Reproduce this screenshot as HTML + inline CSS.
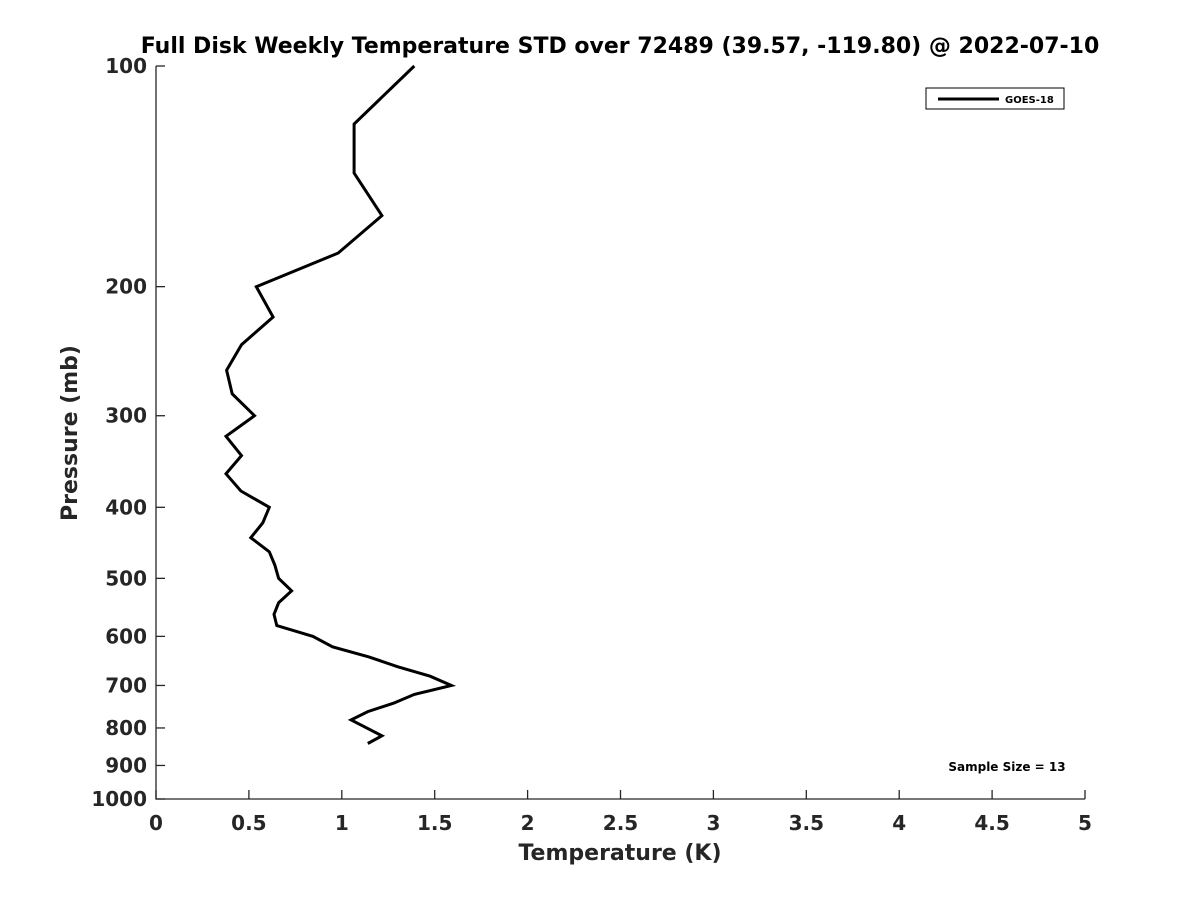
<!DOCTYPE html>
<html><head><meta charset="utf-8"><style>
body{margin:0;background:#fff;}
svg text{font-family:"DejaVu Sans","Liberation Sans",sans-serif;font-weight:bold;fill:#262626;}
</style></head><body>
<svg id="chart" width="1200" height="900" viewBox="0 0 1200 900" xmlns="http://www.w3.org/2000/svg">
<rect width="1200" height="900" fill="#fff"/>
<text x="620" y="53" font-size="22" text-anchor="middle" style="fill:#000">Full Disk Weekly Temperature STD over 72489 (39.57, -119.80) @ 2022-07-10</text>
<g id="axes"></g>
<g id="series"></g>
<text x="620" y="860" font-size="22" text-anchor="middle">Temperature (K)</text>
<text transform="translate(77,433) rotate(-90)" font-size="22" text-anchor="middle">Pressure (mb)</text>
<g>
<rect x="926" y="88" width="138" height="21" fill="#fff" stroke="#000" stroke-width="1"/>
<line x1="938" y1="99" x2="999" y2="99" stroke="#000" stroke-width="3"/>
<text x="1005" y="103" font-size="10" style="fill:#000">GOES-18</text>
</g>
<text x="1007" y="771" font-size="12" text-anchor="middle" style="fill:#000">Sample Size = 13</text>
</svg>
<script>
const xTicks=[0,0.5,1,1.5,2,2.5,3,3.5,4,4.5,5];
const xTickLabels=["0","0.5","1","1.5","2","2.5","3","3.5","4","4.5","5"];
const yTicks=[100,200,300,400,500,600,700,800,900,1000];
const yTickLabels=["100","200","300","400","500","600","700","800","900","1000"];
const pressures=[100,120,140,160,180,200,220,240,260,280,300,320,340,360,380,400,420,440,460,480,500,520,540,560,580,600,620,640,660,680,700,720,740,760,780,820,840];
const tempStd=[1.39,1.066,1.066,1.216,0.98,0.54,0.63,0.46,0.38,0.41,0.53,0.377,0.46,0.377,0.457,0.61,0.575,0.51,0.61,0.64,0.66,0.73,0.66,0.635,0.65,0.845,0.95,1.146,1.30,1.475,1.59,1.39,1.28,1.14,1.05,1.216,1.14];
const X0=156,X1=1085,Y0=66,Y1=799;
const xs=v=>X0+(v-0)/(5-0)*(X1-X0);
const ys=p=>Y0+Math.log10(p/100)*(Y1-Y0);
const NS="http://www.w3.org/2000/svg";
const axes=document.getElementById('axes');
function mk(tag,attrs,parent){const e=document.createElementNS(NS,tag);for(const k in attrs)e.setAttribute(k,attrs[k]);parent.appendChild(e);return e;}
const ax=mk('path',{d:`M${X0},${Y0}V${Y1}H${X1}`,fill:'none',stroke:'#262626','stroke-width':1.3},axes);


xTicks.forEach((v,i)=>{
 const t=mk('line',{x1:xs(v),x2:xs(v),y1:Y1,y2:Y1-9,stroke:'#262626','stroke-width':1.3},axes);
 
 
 const l=mk('text',{x:xs(v),y:Y1+31,'font-size':20,'text-anchor':'middle'},axes);
 l.textContent=xTickLabels[i];
 
 
});
yTicks.forEach((p,i)=>{
 const t=mk('line',{x1:X0,x2:X0+9,y1:ys(p),y2:ys(p),stroke:'#262626','stroke-width':1.3},axes);
 
 
 const l=mk('text',{x:X0-9,y:ys(p)+7,'font-size':20,'text-anchor':'end'},axes);
 l.textContent=yTickLabels[i];
 
 
});
const d=pressures.map((p,i)=>(i?'L':'M')+xs(tempStd[i]).toFixed(1)+','+ys(p).toFixed(1)).join('');
const line=mk('path',{d:d,fill:'none',stroke:'#000','stroke-width':3,'stroke-linejoin':'miter'},document.getElementById('series'));


</script>
</body></html>
